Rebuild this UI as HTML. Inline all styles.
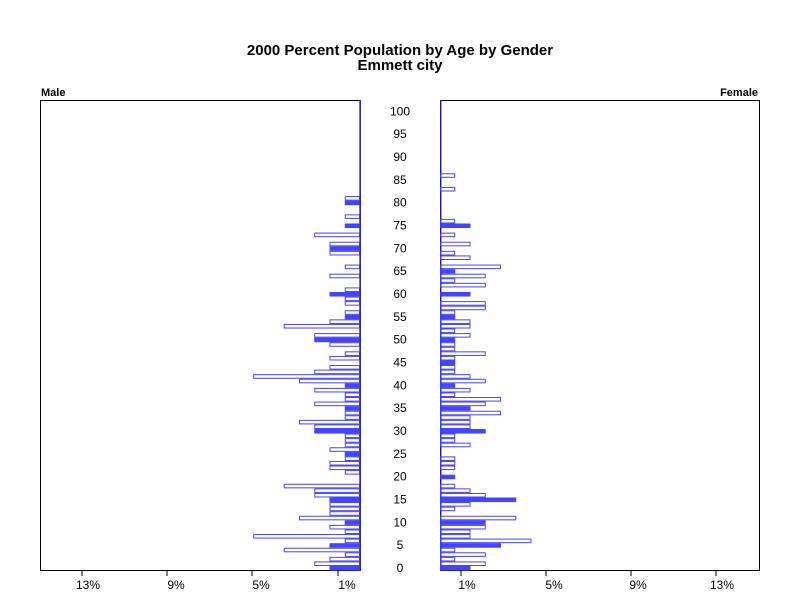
<!DOCTYPE html>
<html><head><meta charset="utf-8"><style>
body{margin:0;background:#fff;}
svg{display:block;font-family:"Liberation Sans",Arial,sans-serif;}
</style></head><body>
<svg id="s" width="800" height="600" viewBox="0 0 800 600">
<rect width="800" height="600" fill="#fff"/>
<text x="400" y="55" font-size="15" font-weight="bold" text-anchor="middle">2000 Percent Population by Age by Gender</text>
<text x="400" y="70" font-size="15" font-weight="bold" text-anchor="middle">Emmett city</text>
<text x="41" y="96" font-size="11" font-weight="bold">Male</text>
<text x="758" y="96" font-size="11" font-weight="bold" text-anchor="end">Female</text>
<rect x="40.5" y="100.5" width="320" height="470" fill="none" stroke="#000"/>
<rect x="440.5" y="100.5" width="319" height="470" fill="none" stroke="#000"/>
<g id="bars"></g>
<line x1="360" y1="100" x2="360" y2="571" stroke="#3333ff" stroke-width="1.5"/>
<line x1="441" y1="100" x2="441" y2="571" stroke="#3333ff" stroke-width="1"/>
<g stroke="#000">
<line x1="82" y1="570" x2="82" y2="576"/><line x1="167" y1="570" x2="167" y2="576"/><line x1="252" y1="570" x2="252" y2="576"/><line x1="338" y1="570" x2="338" y2="576"/>
<line x1="461" y1="570" x2="461" y2="576"/><line x1="546" y1="570" x2="546" y2="576"/><line x1="631" y1="570" x2="631" y2="576"/><line x1="716" y1="570" x2="716" y2="576"/>
</g>
<g font-size="12" text-anchor="middle">
<text x="88" y="589">13%</text><text x="176" y="589">9%</text><text x="261" y="589">5%</text><text x="347" y="589">1%</text>
<text x="467" y="589">1%</text><text x="554" y="589">5%</text><text x="638" y="589">9%</text><text x="722" y="589">13%</text>
</g>
<g id="ages" font-size="12" text-anchor="middle"></g>
</svg>
<script>
var M=[2,3,2,1,5,2,1,7,1,2,1,4,2,2,2,2,3,3,5,0,0,1,2,2,1,1,2,1,1,1,3,3,4,1,1,1,3,1,1,3,1,4,7,3,2,0,2,1,0,2,3,3,0,5,2,1,1,0,1,1,2,1,0,0,2,0,1,0,0,2,2,2,0,3,0,1,0,1,0,0,1,1];
var F=[2,3,1,3,1,4,6,2,2,3,3,5,0,1,2,5,3,2,1,0,1,0,1,1,1,0,0,2,1,1,3,2,2,2,4,2,3,4,1,2,1,3,2,1,1,1,1,3,1,1,1,2,1,2,2,1,1,3,3,0,2,0,3,1,3,1,4,0,2,1,0,2,0,1,0,2,1,0,0,0,0,0,0,1,0,0,1];
var ns="http://www.w3.org/2000/svg",g=document.getElementById("bars"),u=15.25,h=4.567,c="#4444ff";
function bar(x,y,w,f){var r=document.createElementNS(ns,"rect");
 if(f){r.setAttribute("x",x);r.setAttribute("y",y);r.setAttribute("width",w);r.setAttribute("height",h);r.setAttribute("fill",c);}
 else{r.setAttribute("x",x+0.5);r.setAttribute("y",y+0.5);r.setAttribute("width",Math.max(w-1,0));r.setAttribute("height",h-1);r.setAttribute("fill","none");r.setAttribute("stroke",c);}
 g.appendChild(r);}
for(var a=0;a<M.length;a++){if(M[a]){var w=M[a]*u;bar(360-w,566-h*a,w,a%5==0);}}
for(var a=0;a<F.length;a++){if(F[a]){var w=F[a]*u;bar(440,566-h*a,w,a%5==0);}}
var ag=document.getElementById("ages");
for(var a=0;a<=100;a+=5){var t=document.createElementNS(ns,"text");t.setAttribute("x",400);t.setAttribute("y",572-h*a);t.textContent=a;ag.appendChild(t);}
</script>
</body></html>
